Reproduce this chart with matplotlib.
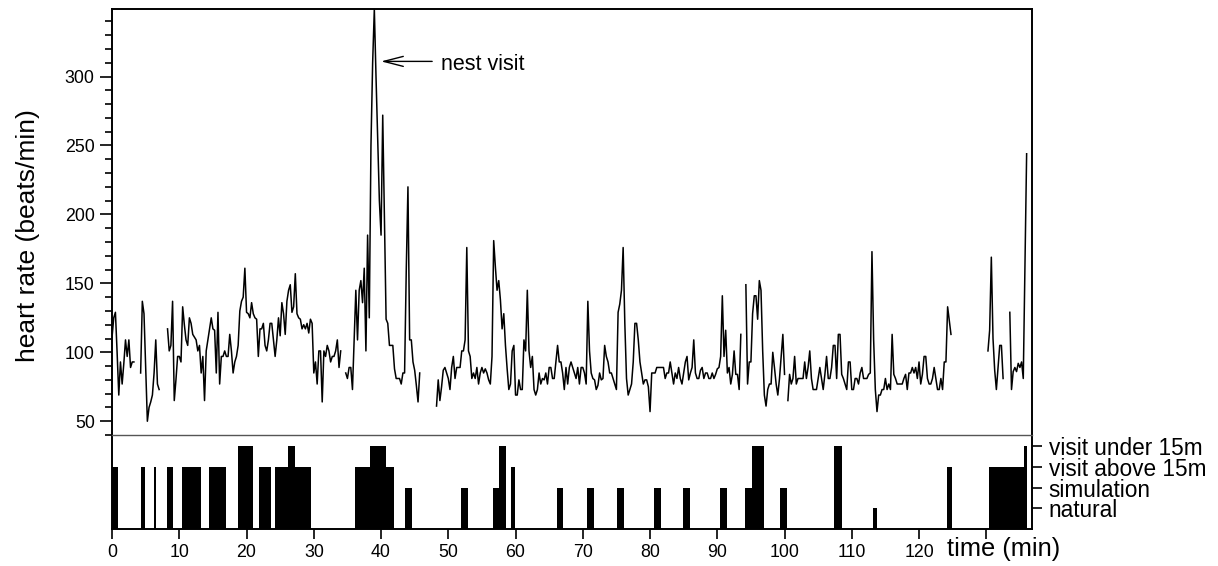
import numpy as np
import matplotlib.pyplot as plt

plt.rcParams['font.family'] = ['Liberation Sans', 'DejaVu Sans']

# heart rate sampled every 15 s; each list is one unbroken recording stretch
step = 0.25
seg_start = [0.0, 4.25, 8.25, 34.75, 48.25, 94.25, 100.5, 130.25, 133.5]
hr_values = [
    [111, 125, 129, 100, 69, 93, 77, 92, 109, 97, 109, 89, 93, 93],
    [85, 137, 128, 90, 50, 60, 64, 69, 85, 109, 77, 73],
    [117, 101, 105, 137, 65, 80, 97, 97, 93, 133, 120, 109, 105, 125, 121, 113,
     111, 109, 101, 105, 85, 97, 65, 101, 109, 117, 125, 117, 116, 85, 129, 77,
     97, 97, 101, 97, 97, 113, 101, 85, 93, 97, 105, 130, 137, 140, 161, 129,
     128, 125, 136, 128, 125, 124, 97, 117, 117, 121, 105, 101, 109, 121, 121,
     109, 97, 109, 125, 112, 136, 128, 113, 137, 145, 149, 129, 133, 157, 128,
     125, 124, 117, 120, 117, 121, 114, 124, 121, 85, 93, 77, 101, 101, 64, 101,
     97, 105, 101, 93, 97, 97, 101, 109, 89, 101],
    [85, 81, 89, 89, 73, 110, 145, 109, 145, 152, 136, 161, 101, 185, 125, 250,
     310, 349, 300, 255, 210, 185, 272, 198, 124, 121, 105, 105, 105, 88, 81,
     81, 81, 77, 85, 85, 160, 220, 109, 109, 93, 87, 76, 64, 85],
    [61, 80, 65, 75, 87, 89, 85, 81, 73, 89, 97, 81, 89, 89, 89, 101, 101, 109,
     176, 101, 97, 81, 85, 81, 89, 77, 85, 89, 85, 88, 85, 80, 77, 97, 181, 162,
     145, 152, 138, 117, 128, 105, 88, 73, 77, 101, 105, 69, 69, 80, 73, 73,
     109, 101, 145, 101, 89, 97, 73, 69, 73, 85, 77, 81, 80, 85, 77, 89, 89, 81,
     81, 93, 105, 93, 93, 85, 73, 89, 77, 89, 93, 89, 85,
     81, 89, 77, 89, 89, 85, 77, 137, 101, 85, 81, 80, 73, 76, 85, 80, 81, 105,
     97, 93, 85, 85, 81, 77, 73, 129, 135, 145, 176, 121, 81, 69, 73, 77, 93,
     121, 121, 109, 93, 85, 77, 80, 80, 75, 57, 85, 85, 85, 89, 89, 89, 89, 89,
     81, 85, 85, 93, 85, 77, 85, 81, 89, 81, 77, 85, 93, 97, 80, 85, 89, 109,
     85, 81, 81,
     87, 89, 81, 85, 85, 81, 81, 85, 81, 84, 88, 89, 97, 141, 97, 116, 85, 89,
     77, 84, 101, 84, 84, 73, 113],
    [149, 77, 93, 93, 128, 141, 141, 124, 152, 145, 101, 69, 61, 73, 77, 77,
     100, 89, 77, 69, 81, 97, 113, 84],
    [65, 84, 77, 81, 97, 77, 81, 81, 81, 81, 93, 81, 89, 101, 81, 73, 73, 73,
     81, 89, 81, 73, 84, 97, 81, 81, 89, 105, 105, 81, 113, 113, 84, 81, 77, 73,
     93, 93, 73, 73, 81, 81, 77, 85, 89, 81, 81, 81, 84, 85, 173, 109, 73, 57,
     69, 69, 73, 73, 81, 73, 77, 73, 113, 84, 81, 77, 77, 77, 77, 81, 84, 73,
     85, 85, 89, 85, 89, 81, 93, 77, 84, 97, 97, 81, 77, 77, 81, 89, 81, 73,
     73, 81, 73, 93, 93, 133, 123, 113],
    [101, 116, 169, 110, 87, 73, 89, 105, 105, 81],
    [129, 73, 86, 89, 86, 92, 89, 93, 81, 160, 244],
]

# behaviour events (min) and their category level
event_start = [0.0, 4.3, 6.3, 8.1, 10.4, 14.4, 18.8, 21.9, 24.3, 26.1, 27.2,
               36.1, 38.4, 40.7, 43.6, 51.9, 56.6, 57.6, 59.3, 66.1, 70.6,
               75.1, 80.6, 84.9, 90.4, 94.1, 95.2, 99.3, 107.3, 113.1, 124.1,
               130.4, 135.6]
event_end = [0.9, 4.9, 6.6, 9.1, 13.2, 16.9, 20.9, 23.7, 26.1, 27.2, 29.6,
             38.4, 40.7, 41.9, 44.6, 52.9, 57.6, 58.6, 59.9, 67.1, 71.6,
             76.2, 81.6, 85.9, 91.4, 95.2, 96.9, 100.4, 108.6, 113.7, 124.9,
             135.6, 136.1]
event_level = [3, 3, 3, 3, 3, 3, 4, 3, 3, 4, 3,
               3, 4, 3, 2, 2, 2, 4, 3, 2, 2,
               2, 2, 2, 2, 2, 4, 2, 4, 1, 3,
               3, 4]
level_names = ['natural', 'simulation', 'visit above 15m', 'visit under 15m']
time_ticks = list(range(0, 131, 10))

# join the stretches, NaN between them breaks the line
t, hr = [], []
for start, vals in zip(seg_start, hr_values):
    t += [start + step * i for i in range(len(vals))] + [np.nan]
    hr += vals + [np.nan]

fig = plt.figure(figsize=(12.18, 5.66), dpi=100)
ax = fig.add_axes([0.092, 0.2314, 0.7553, 0.7527])
axb = fig.add_axes([0.092, 0.0654, 0.7553, 0.1661], sharex=ax)

ax.plot(t, hr, color='black', lw=1.1)
ax.set_xlim(0, 136.8)
ax.set_ylim(40, 349)
ax.set_yticks(range(50, 301, 50))
ax.set_yticks(range(40, 350, 10), minor=True)
ax.tick_params(axis='x', which='both', bottom=False, labelbottom=False)
ax.tick_params(axis='y', which='major', length=9, width=1.2, labelsize=12.8)
ax.tick_params(axis='y', which='minor', length=5, width=1.2)
for side in ['left', 'top', 'right']:
    ax.spines[side].set_linewidth(1.4)
ax.spines['bottom'].set_visible(False)

ax.annotate('', xy=(40.0, 311), xytext=(47.6, 311),
            arrowprops=dict(arrowstyle='->,head_length=0.7,head_width=0.18',
                            lw=1.0, color='black', mutation_scale=20,
                            shrinkA=0, shrinkB=0))
ax.text(48.9, 309, 'nest visit', fontsize=15.5, va='center', ha='left')

axb.bar(event_start, event_level,
        width=np.subtract(event_end, event_start),
        align='edge', color='black', edgecolor='none')
axb.set_ylim(0, 4.55)
# thin grey divider between the two panels
axb.spines['top'].set_linewidth(1.0)
axb.spines['top'].set_color('#555555')
for side in ['left', 'bottom', 'right']:
    axb.spines[side].set_linewidth(1.4)
axb.yaxis.tick_right()
axb.set_yticks([1, 2, 3, 4], level_names)
axb.tick_params(axis='y', length=7, width=1.2, labelsize=16.3, pad=5)
axb.set_xticks(time_ticks, [str(v) for v in time_ticks[:-1]] + [''])
axb.tick_params(axis='x', length=7, width=1.2, labelsize=12.8, pad=4)

fig.text(0.7775, 0.030, 'time (min)', fontsize=18.3, ha='left', va='center')
fig.text(0.023, 0.583, 'heart rate (beats/min)', fontsize=19, rotation=90,
         ha='center', va='center')

fig.savefig('out.png', dpi=100)
